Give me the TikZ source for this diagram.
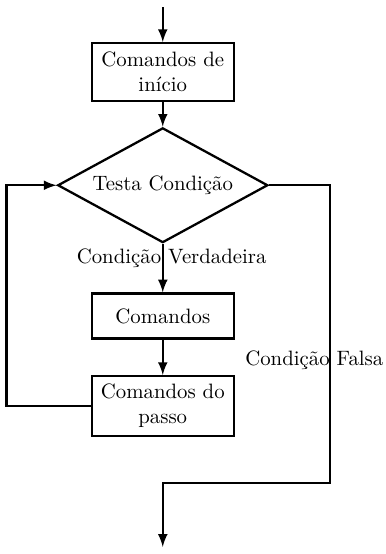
\documentclass[tikz,border=0pt]{standalone}
\usetikzlibrary{shapes.geometric}
\begin{document}
\begin{tikzpicture}
    % Define styles
    \tikzset{
        bloco/.style={
            draw,
            line width=1.1pt,
            rectangle,
            minimum width=2.4cm,
            align=center,
            inner sep=2pt
        },
        decisao/.style={
            draw,
            line width=1.1pt,
            diamond,
            aspect=1.83,
            minimum width=3.55cm,
            minimum height=1.94cm,
            inner sep=0pt
        },
        seta/.style={
            line width=1.1pt,
            -latex
        },
        rotulo/.style={
            font=\normalsize
        }
    }
    \useasboundingbox (0,0) rectangle (6.52,-9.36);

    % Blocks
    \node[bloco, minimum height=0.98cm] (inicio) at (2.75,-1.22) {Comandos de\\início};
    \node[decisao] (testa) at (2.75,-3.13) {Testa Condição};
    \node[bloco, minimum height=0.76cm] (comandos) at (2.75,-5.34) {Comandos};
    \node[bloco, minimum height=1.01cm] (passo) at (2.75,-6.86) {Comandos do\\passo};

    % Free ends
    \coordinate (entrada) at (2.75,-0.12);
    \coordinate (saida) at (2.75,-9.24);

    % Connectors
    \draw[seta] (entrada) -- (inicio);
    \draw[seta] (inicio) -- (testa);
    \draw[seta] (testa) -- (comandos);
    \draw[seta] (comandos) -- (passo);
    \draw[seta] (passo.west) -- ++(-1.42,0) |- (testa.west);
    \draw[seta] (testa.east) -- (5.58,-3.13) -- (5.58,-8.16) -- (2.75,-8.16) -- (saida);

    % Labels
    \node[rotulo] (verdadeira) at (2.90,-4.36) {Condição Verdadeira};
    \node[rotulo] (falsa) at (5.31,-6.08) {Condição Falsa};
\end{tikzpicture}
\end{document}
